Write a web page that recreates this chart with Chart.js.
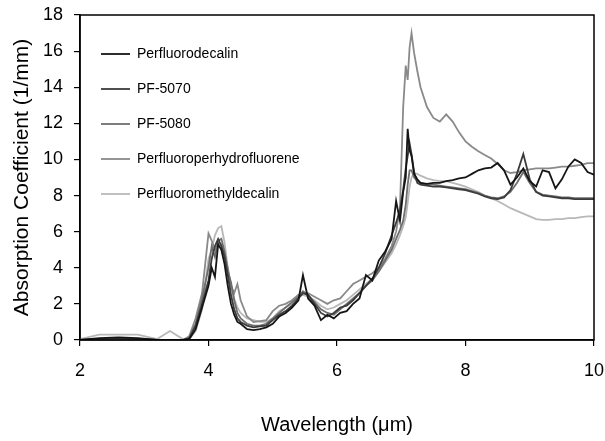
<!DOCTYPE html>
<html><head><meta charset="utf-8">
<script src="https://cdn.jsdelivr.net/npm/chart.js@4.4.1/dist/chart.umd.min.js"></script>
<style>html,body{margin:0;padding:0;background:#fff;}#wrap{width:605px;height:441px;}</style>
</head><body><div id="wrap"><canvas id="c" width="605" height="441"></canvas></div>
<script>
const wavelength = [2.0,2.3,2.6,2.9,3.2,3.4,3.6,3.7,3.8,3.9,
  4.0,4.05,4.1,4.15,4.2,4.25,4.3,4.35,4.4,4.45,
  4.5,4.6,4.7,4.8,4.9,5.0,5.1,5.2,5.3,5.4,
  5.47,5.55,5.65,5.75,5.85,5.95,6.05,6.15,6.25,6.35,
  6.45,6.55,6.65,6.75,6.85,6.92,6.98,7.03,7.07,7.1,
  7.13,7.16,7.2,7.25,7.3,7.4,7.5,7.6,7.7,7.8,
  7.9,8.0,8.1,8.2,8.3,8.4,8.5,8.6,8.7,8.8,
  8.9,9.0,9.1,9.2,9.3,9.4,9.5,9.6,9.7,9.8,
  9.9,10.0];
const perfluorodecalin = [0,0.1,0.15,0.1,0,0,0,0.05,0.6,1.8,
  3.0,4.0,3.5,5.3,5.0,4.2,3.0,2.0,1.4,1.0,
  0.9,0.6,0.55,0.6,0.7,0.9,1.3,1.5,1.8,2.2,
  3.6,2.3,1.9,1.1,1.4,1.2,1.5,1.6,2.0,2.3,
  3.6,3.3,4.4,4.9,5.6,7.7,6.6,8.2,9.0,11.7,
  10.5,10.2,9.2,8.9,8.7,8.65,8.7,8.7,8.8,8.85,
  8.95,9.0,9.2,9.4,9.5,9.55,9.8,9.4,8.6,9.0,
  9.5,8.8,8.5,9.4,9.3,8.4,8.9,9.6,10.0,9.8,
  9.3,9.15];
const pf5070 = [0,0.05,0.1,0.05,0,0,0,0.1,0.8,2.0,
  3.3,4.5,5.2,5.6,5.2,4.6,3.6,2.5,1.7,1.2,
  1.0,0.8,0.7,0.75,0.8,1.1,1.4,1.6,1.9,2.3,
  2.6,2.5,2.0,1.5,1.3,1.5,1.8,1.9,2.2,2.6,
  3.0,3.4,4.0,4.8,5.8,6.5,7.2,8.3,9.5,10.2,
  10.9,10.3,9.3,8.7,8.6,8.55,8.5,8.5,8.45,8.4,
  8.35,8.3,8.2,8.1,7.95,7.85,7.8,7.9,8.3,9.2,
  10.3,8.9,8.2,8.0,7.95,7.9,7.85,7.85,7.8,7.8,
  7.8,7.8];
const pf5080 = [0,0.05,0.05,0.05,0,0,0,0.1,0.9,2.3,
  4.0,5.2,4.6,5.5,5.6,4.9,3.8,3.2,2.2,1.5,
  1.2,0.9,0.8,0.8,0.9,1.2,1.5,1.8,2.1,2.4,
  2.7,2.5,2.1,1.7,1.5,1.4,1.7,2.0,2.3,2.6,
  3.0,3.3,3.8,4.4,5.0,5.6,6.1,6.6,7.5,8.6,
  9.4,9.4,9.0,8.8,8.7,8.6,8.6,8.55,8.5,8.45,
  8.4,8.35,8.25,8.15,8.0,7.9,7.85,7.95,8.2,8.7,
  9.3,8.7,8.2,8.05,8.0,7.95,7.9,7.9,7.85,7.85,
  7.85,7.85];
const perfluoroperhydrofluorene = [0,0.05,0.05,0.05,0,0,0,0.2,1.2,2.6,
  5.9,5.5,5.0,5.4,5.3,4.8,4.0,3.0,2.6,3.1,
  2.2,1.3,1.0,1.05,1.1,1.6,1.9,2.0,2.2,2.5,
  2.6,2.6,2.4,2.2,2.0,2.2,2.3,2.7,3.1,3.3,
  3.5,3.7,4.0,4.5,5.2,6.0,7.3,12.9,15.2,14.4,
  16.2,17.0,15.9,14.9,14.0,12.9,12.3,12.1,12.5,12.1,
  11.5,11.0,10.7,10.45,10.25,10.05,9.75,9.4,9.25,9.3,
  9.4,9.45,9.5,9.5,9.5,9.55,9.6,9.6,9.65,9.7,
  9.8,9.8];
const perfluoromethyldecalin = [0.05,0.3,0.3,0.3,0.05,0.5,0.05,0.05,0.5,1.7,
  4.5,5.0,5.8,6.2,6.3,5.4,4.0,3.0,2.3,1.8,
  1.5,1.2,1.1,1.0,1.0,1.2,1.6,1.8,2.0,2.4,
  2.5,2.4,2.2,1.9,1.7,1.8,2.0,2.2,2.5,2.8,
  3.1,3.4,3.8,4.3,4.8,5.3,5.8,6.3,6.8,7.6,
  8.5,9.0,9.25,9.2,9.1,8.95,8.85,8.8,8.8,8.7,
  8.6,8.5,8.35,8.2,8.0,7.85,7.7,7.5,7.3,7.15,
  7.0,6.85,6.7,6.65,6.65,6.7,6.7,6.75,6.75,6.8,
  6.85,6.85];
const seriesNames = ['Perfluorodecalin','PF-5070','PF-5080','Perfluoroperhydrofluorene','Perfluoromethyldecalin'];
const seriesValues = [perfluorodecalin, pf5070, pf5080, perfluoroperhydrofluorene, perfluoromethyldecalin];
const seriesColors = ['#151515','#3c3c3c','#6e6e6e','#8a8a8a','#b8b8b8'];
const xTickValues = [2,4,6,8,10];
const yTickValues = [0,2,4,6,8,10,12,14,16,18];

const FONT = "'Liberation Sans', Arial, Helvetica, sans-serif";

const datasets = seriesNames.map((name, i) => ({
  label: name,
  data: wavelength.map((w, j) => ({x: w, y: seriesValues[i][j]})),
  borderColor: seriesColors[i],
  backgroundColor: seriesColors[i],
  borderWidth: 1.8,
  pointRadius: 0,
  tension: 0,
  fill: false
}));

const framePlugin = {
  id: 'frame',
  afterDatasetsDraw(chart) {
    const {ctx, chartArea: {left, top, right, bottom}} = chart;
    ctx.save();
    ctx.strokeStyle = '#000';
    ctx.lineWidth = 1.5;
    ctx.strokeRect(left, top, right - left, bottom - top);
    ctx.restore();
  }
};
const legendShift = {
  id: 'legendShift',
  afterLayout(chart) {
    const lg = chart.legend;
    if (lg) { lg.top += 26; }
  }
};

new Chart(document.getElementById('c'), {
  type: 'line',
  data: { datasets },
  options: {
    responsive: false,
    animation: false,
    devicePixelRatio: 1,
    layout: { autoPadding: false, padding: { top: 15, right: 11, left: 0, bottom: 0 } },
    plugins: {
      legend: {
        position: 'chartArea',
        align: 'start',
        labels: {
          usePointStyle: true,
          pointStyle: 'line',
          pointStyleWidth: 29,
          padding: 21,
          color: '#000',
          font: { family: FONT, size: 14 }
        }
      },
      tooltip: { enabled: false }
    },
    scales: {
      x: {
        type: 'linear',
        min: 2, max: 10,
        afterBuildTicks(scale) { scale.ticks = xTickValues.map(v => ({value: v})); },
        afterFit(scale) { scale.height = 101; scale.paddingLeft = 0; scale.paddingRight = 0; },
        grid: { display: true, drawOnChartArea: false, drawTicks: true, tickLength: 6, color: '#000', lineWidth: 1.2 },
        border: { display: true, color: '#000', width: 1.5 },
        ticks: { color: '#000', font: { family: FONT, size: 18 }, padding: 14, maxRotation: 0 },
        title: { display: true, text: 'Wavelength (μm)', color: '#000', font: { family: FONT, size: 20 }, padding: { top: 0, bottom: 4 } }
      },
      y: {
        type: 'linear',
        min: 0, max: 18,
        afterBuildTicks(scale) { scale.ticks = yTickValues.map(v => ({value: v})); },
        afterFit(scale) { scale.width = 80; scale.paddingTop = 0; scale.paddingBottom = 0; },
        grid: { display: true, drawOnChartArea: false, drawTicks: true, tickLength: 6, color: '#000', lineWidth: 1.2 },
        border: { display: true, color: '#000', width: 1.5 },
        ticks: { color: '#000', font: { family: FONT, size: 18 }, padding: 11 },
        title: { display: true, text: 'Absorption Coefficient (1/mm)', color: '#000', font: { family: FONT, size: 21 }, padding: { top: 10, bottom: 0 } }
      }
    }
  },
  plugins: [framePlugin, legendShift]
});
</script>
</body></html>
